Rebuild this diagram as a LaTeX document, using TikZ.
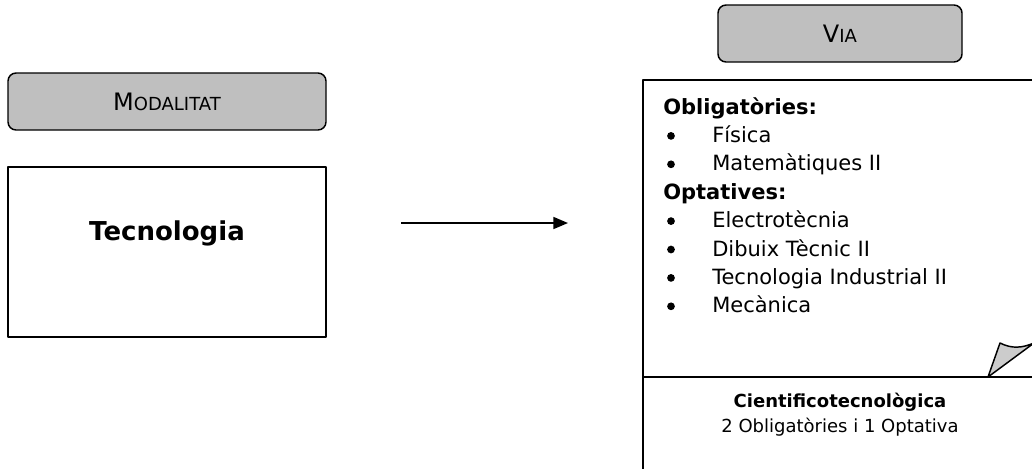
\documentclass[tikz,border=0pt]{standalone}
\usepackage{fontspec}
\setmainfont{DejaVu Sans}
\usetikzlibrary{positioning,arrows.meta}
\newcommand{\fsc}[2]{{\fontsize{18}{21}\selectfont #1}{\fontsize{13.5}{16}\selectfont #2}}
\begin{document}
\begin{tikzpicture}[x=0.75pt,y=-0.75pt,line join=round,>={Triangle[length=11pt,width=9pt]},
	box/.style={draw,line width=1.1pt,inner sep=0pt},
	tabbox/.style={box,fill=gray!50,rounded corners=6pt,minimum height=42.75pt},
	item/.style={font=\fontsize{15.75}{18}\selectfont,anchor=base west,inner sep=0pt},
	head/.style={item,font=\fontsize{15.75}{18}\selectfont\bfseries},
	dot/.style={circle,fill,inner sep=0pt,minimum size=5.8pt}]
	\useasboundingbox (0,0) rectangle (1032,468);
	% left column
	\node[tabbox,minimum width=238.5pt] (modal) at (167,101.5) {\fsc{M}{ODALITAT}};
	\node[box,minimum width=238.5pt,minimum height=127.5pt] (tecbox) at (167,252) {};
	\node[anchor=base,inner sep=0pt,font=\fontsize{19.5}{22}\selectfont\bfseries] (tec) at (167,240) {Tecnologia};
	% arrow
	\coordinate (a1) at (401,223); \coordinate (a2) at (568,223);
	\draw[->,line width=1.3pt] (a1)--(a2);
	% right column
	\node[tabbox,minimum width=183pt] (via) at (840,33.5) {\fsc{V}{IA}};
	\node[box,minimum width=295.5pt,minimum height=300pt] (viabox) at (840,280) {};
	\coordinate (div) at (643,377);
	\draw[line width=1.1pt] (div)--(div -| viabox.east);
	\node[head] (oblig) at (663,114) {Obligatòries:};
	\node[head] (opt) at (663,199.2) {Optatives:};
	\foreach \y/\t [count=\i] in {142.4/Física,170.8/Matemàtiques II,227.6/Electrotècnia,256/Dibuix Tècnic II,284.4/Tecnologia Industrial II,312.8/Mecànica}{
		\node[dot] (b\i) at (671,\y-6.5) {};
		\node[item] (it\i) at (712,\y) {\t};
	}
	\node[anchor=base,inner sep=0pt,font=\fontsize{13.5}{16}\selectfont\bfseries] (cien) at (840,407) {Cientificotecnològica};
	\node[anchor=base,inner sep=0pt,font=\fontsize{13.5}{16}\selectfont] (regla) at (840,432) {2 Obligatòries i 1 Optativa};
	% folded corner
	\draw[line width=1.1pt,fill=gray!40] (988,377)--(1000,343) .. controls (1012,349) and (1022,348) .. (1034,343)--cycle;
\end{tikzpicture}
\end{document}
